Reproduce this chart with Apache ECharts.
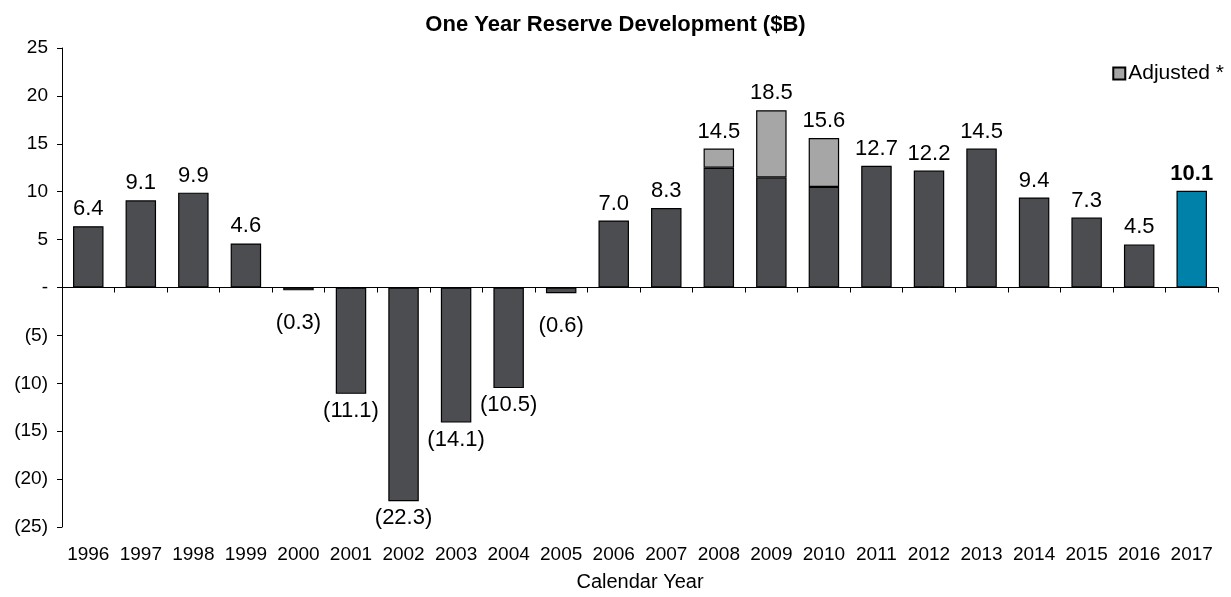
<!DOCTYPE html>
<html>
<head>
<meta charset="utf-8">
<script src="https://cdn.jsdelivr.net/npm/echarts@6/dist/echarts.min.js"></script>
<style>
  html, body { margin: 0; padding: 0; background: #ffffff; }
  #chart { width: 1231px; height: 597px; }
</style>
</head>
<body>
<div id="chart"></div>
<script>
// Calendar years on the category axis
const years = ['1996','1997','1998','1999','2000','2001','2002','2003','2004','2005','2006',
               '2007','2008','2009','2010','2011','2012','2013','2014','2015','2016','2017'];
// Total one-year reserve development ($B), as labelled on each bar
const totals = [6.4, 9.1, 9.9, 4.6, -0.3, -11.1, -22.3, -14.1, -10.5, -0.6, 7.0,
                8.3, 14.5, 18.5, 15.6, 12.7, 12.2, 14.5, 9.4, 7.3, 4.5, 10.1];
// Reported portion before adjustment ($B)
const reported = [6.4, 9.1, 9.9, 4.6, -0.3, -11.1, -22.3, -14.1, -10.5, -0.6, 7.0,
                  8.3, 12.5, 11.5, 10.5, 12.7, 12.2, 14.5, 9.4, 7.3, 4.5, 10.1];
// Value-axis ticks
const yTicks = [-25, -20, -15, -10, -5, 0, 5, 10, 15, 20, 25];

const FONT = '"Liberation Sans", Arial, sans-serif';
const DARK = '#4c4d51';
const LIGHT = '#a6a6a6';
const HIGHLIGHT = '#0081a9';
const lastIdx = years.length - 1;

function fmtVal(v) {
  const s = Math.abs(v).toFixed(1);
  return v < 0 ? '(' + s + ')' : s;
}

// Adjustment layer = total minus reported portion
const adjust = totals.map((t, i) => {
  const d = +(t - reported[i]).toFixed(1);
  return d > 0 ? d : null;
});

function labelFor(i, show) {
  const t = totals[i];
  const small = Math.abs(t) < 1;
  return {
    show: show,
    position: t < 0 ? 'bottom' : 'top',
    distance: small ? 22 : 6,
    formatter: () => fmtVal(t),
    fontWeight: i === lastIdx ? 'bold' : 'normal'
  };
}

const reportedData = reported.map((v, i) => ({
  value: v,
  itemStyle: { color: i === lastIdx ? HIGHLIGHT : DARK },
  label: labelFor(i, adjust[i] === null)
}));

const adjustData = adjust.map((v, i) => ({
  value: v,
  label: labelFor(i, v !== null)
}));

const chart = echarts.init(document.getElementById('chart'), null, { renderer: 'canvas' });

chart.setOption({
  animation: false,
  textStyle: { fontFamily: FONT, color: '#000' },
  title: {
    text: 'One Year Reserve Development ($B)',
    left: 'center',
    top: 9,
    textStyle: { fontFamily: FONT, fontSize: 22, fontWeight: 'bold', color: '#000' }
  },
  legend: {
    data: ['Adjusted *'],
    right: 2,
    top: 58,
    icon: 'rect',
    itemWidth: 12,
    itemHeight: 12,
    itemGap: 4,
    textStyle: { fontFamily: FONT, fontSize: 21, color: '#000', padding: [0, 0, 0, -2] }
  },
  grid: { left: 62, right: 13, top: 48, bottom: 70, containLabel: false },
  xAxis: [
    {
      type: 'category',
      data: years,
      axisLine: { onZero: true, lineStyle: { color: '#000', width: 1 } },
      axisTick: { show: true, length: 5, lineStyle: { color: '#000' } },
      axisLabel: { show: false },
      splitLine: { show: false }
    },
    {
      type: 'category',
      data: years,
      position: 'bottom',
      axisLine: { show: false, onZero: false },
      axisTick: { show: false },
      axisLabel: { show: true, margin: 18, fontFamily: FONT, fontSize: 19, color: '#000', interval: 0 },
      name: 'Calendar Year',
      nameLocation: 'middle',
      nameGap: 45,
      nameTextStyle: { fontFamily: FONT, fontSize: 20, color: '#000' }
    }
  ],
  yAxis: {
    type: 'value',
    min: yTicks[0],
    max: yTicks[yTicks.length - 1],
    interval: 5,
    axisLine: { show: true, lineStyle: { color: '#000', width: 1 } },
    axisTick: { show: true, length: 5, lineStyle: { color: '#000' } },
    splitLine: { show: false },
    axisLabel: {
      margin: 14,
      fontFamily: FONT,
      fontSize: 19,
      color: '#000',
      formatter: v => v === 0 ? '-' : (v < 0 ? '(' + Math.abs(v) + ')' : String(v))
    }
  },
  series: [
    {
      name: 'Reported',
      type: 'bar',
      stack: 'total',
      xAxisIndex: 0,
      barWidth: '58%',
      itemStyle: { borderColor: '#000', borderWidth: 1.2 },
      label: { fontFamily: FONT, fontSize: 22, color: '#000' },
      data: reportedData
    },
    {
      name: 'Adjusted *',
      type: 'bar',
      stack: 'total',
      xAxisIndex: 0,
      barWidth: '58%',
      itemStyle: { color: LIGHT, borderColor: '#000', borderWidth: 1.2 },
      label: { fontFamily: FONT, fontSize: 22, color: '#000' },
      data: adjustData
    }
  ]
});
</script>
</body>
</html>
